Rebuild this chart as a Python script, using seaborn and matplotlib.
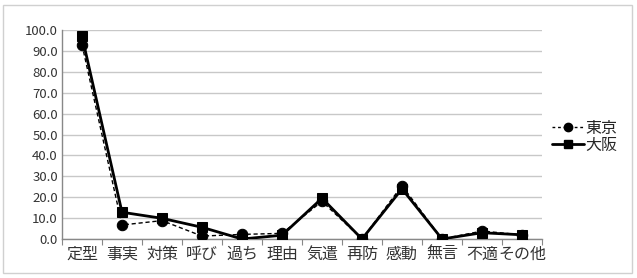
import matplotlib
matplotlib.use("Agg")
import matplotlib.pyplot as plt
import seaborn as sns
import pandas as pd
from matplotlib.patches import Rectangle
from matplotlib.lines import Line2D

categories = ["定型", "事実", "対策", "呼び", "過ち", "理由", "気遣", "再防", "感動", "無言", "不適", "その他"]
tokyo = [93.0, 6.7, 8.8, 1.4, 2.2, 2.7, 18.0, 0.0, 25.5, 0.0, 3.8, 2.0]
osaka = [97.0, 12.8, 9.9, 5.6, 0.0, 1.8, 19.5, 0.0, 24.0, 0.0, 3.0, 2.0]
series_names = ["東京", "大阪"]
yticks = [0, 10, 20, 30, 40, 50, 60, 70, 80, 90, 100]

sns.set_theme(style="white")
plt.rcParams["font.family"] = ["Noto Sans CJK JP", "DejaVu Sans"]

df = pd.DataFrame({
    "cat": categories * 2,
    "pos": list(range(len(categories))) * 2,
    "val": tokyo + osaka,
    "series": [series_names[0]] * len(categories) + [series_names[1]] * len(categories),
})

fig = plt.figure(figsize=(6.37, 2.78), dpi=100)
ax = fig.add_axes([62 / 637, 1 - 239 / 278, 480 / 637, 209 / 278])

d_t = df[df.series == series_names[0]]
d_o = df[df.series == series_names[1]]
sns.lineplot(data=d_t, x="pos", y="val", ax=ax, color="black", lw=1.0,
             linestyle=(0, (3, 2)), marker="o", markersize=7.5, markeredgecolor="black", zorder=3)
sns.lineplot(data=d_o, x="pos", y="val", ax=ax, color="black", lw=2.0,
             marker="s", markersize=7.5, markeredgecolor="black", zorder=4)

ax.set_xlim(-0.5, len(categories) - 0.5)
ax.set_ylim(0, 100)
ax.set_yticks(yticks)
ax.set_yticklabels([f"{v:.1f}" for v in yticks], fontsize=9.5, color="#333333")
ax.set_xticks(range(len(categories)))
ax.set_xticklabels(categories, fontsize=11.5, color="#333333")
ax.set_xticks([i + 0.5 for i in range(-1, len(categories))], minor=True)
ax.tick_params(axis="x", which="major", length=0, pad=5)
ax.tick_params(axis="x", which="minor", length=4, width=0.8, color="#888888", direction="out", bottom=True)
ax.tick_params(axis="y", length=0, pad=3)
ax.set_xlabel("")
ax.set_ylabel("")
ax.grid(axis="y", color="#c8c8c8", lw=1)
for s in ["top", "right"]:
    ax.spines[s].set_visible(False)
for s in ["left", "bottom"]:
    ax.spines[s].set_color("#888888")
    ax.spines[s].set_linewidth(1)

handles = [
    Line2D([], [], color="black", lw=1.0, linestyle=(0, (2, 2)), marker="o", markersize=6),
    Line2D([], [], color="black", lw=2.0, marker="s", markersize=6),
]
fig.legend(handles, series_names, loc="center left", bbox_to_anchor=(552 / 637, 1 - 137 / 278),
           frameon=False, fontsize=11.5, handlelength=2.0, handletextpad=0.1, labelspacing=0.0,
           borderaxespad=0, borderpad=0)

fig.patches.append(Rectangle((3 / 637, 1 - 273 / 278), 629 / 637, 268 / 278,
                             transform=fig.transFigure, fill=False, edgecolor="#d0d0d0", lw=1))

fig.savefig("out.png", dpi=100)
